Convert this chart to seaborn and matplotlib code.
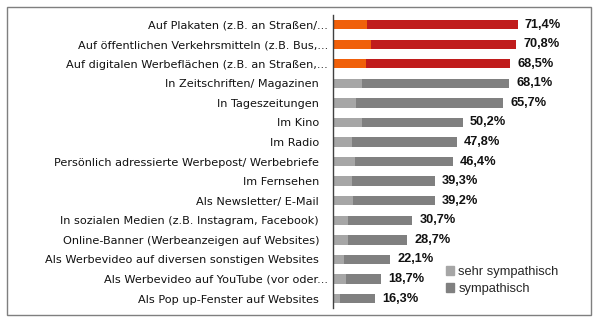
import matplotlib
matplotlib.use("Agg")
import matplotlib.pyplot as plt
import matplotlib.transforms as mtransforms
import seaborn as sns
import pandas as pd
from matplotlib.patches import Patch, Rectangle

categories = [
    "Auf Plakaten (z.B. an Straßen/...",
    "Auf öffentlichen Verkehrsmitteln (z.B. Bus,...",
    "Auf digitalen Werbeflächen (z.B. an Straßen,...",
    "In Zeitschriften/ Magazinen",
    "In Tageszeitungen",
    "Im Kino",
    "Im Radio",
    "Persönlich adressierte Werbepost/ Werbebriefe",
    "Im Fernsehen",
    "Als Newsletter/ E-Mail",
    "In sozialen Medien (z.B. Instagram, Facebook)",
    "Online-Banner (Werbeanzeigen auf Websites)",
    "Als Werbevideo auf diversen sonstigen Websites",
    "Als Werbevideo auf YouTube (vor oder...",
    "Als Pop up-Fenster auf Websites",
]
sehr_sympathisch = [13.0, 14.6, 12.6, 11.1, 8.9, 11.1, 7.3, 8.5, 7.3, 7.7, 5.8, 5.8, 4.4, 5.0, 2.8]
total = [71.4, 70.8, 68.5, 68.1, 65.7, 50.2, 47.8, 46.4, 39.3, 39.2, 30.7, 28.7, 22.1, 18.7, 16.3]
value_labels = ["71,4%", "70,8%", "68,5%", "68,1%", "65,7%", "50,2%", "47,8%", "46,4%",
                "39,3%", "39,2%", "30,7%", "28,7%", "22,1%", "18,7%", "16,3%"]
highlight = [True, True, True] + [False] * 12

light_hi, dark_hi = "#F0600A", "#C01C1C"
light_gr, dark_gr = "#A6A6A6", "#808080"

df = pd.DataFrame({"cat": categories, "sehr": sehr_sympathisch, "total": total})
dark_pal = {c: (dark_hi if h else dark_gr) for c, h in zip(categories, highlight)}
light_pal = {c: (light_hi if h else light_gr) for c, h in zip(categories, highlight)}

sns.set_style("white")
plt.rcParams["font.family"] = ["DejaVu Sans"]

fig = plt.figure(figsize=(5.99, 3.21), dpi=100)
W, H = 599, 321
ax = fig.add_axes([333 / W, 1 - 308.3 / H, 246 / W, (308.3 - 14.9) / H])

sns.barplot(data=df, y="cat", x="total", hue="cat", palette=dark_pal, orient="h",
            width=0.48, legend=False, ax=ax, saturation=1, linewidth=0)
sns.barplot(data=df, y="cat", x="sehr", hue="cat", palette=light_pal, orient="h",
            width=0.48, legend=False, ax=ax, saturation=1, linewidth=0)

ax.set_xlim(0, 95)
ax.set_ylim(14.5, -0.5)
ax.set_xlabel("")
ax.set_ylabel("")
ax.set_xticks([])
for s in ["top", "right", "bottom"]:
    ax.spines[s].set_visible(False)
ax.spines["left"].set_color("#404040")
ax.spines["left"].set_linewidth(1.0)
ax.tick_params(axis="y", length=0, pad=10, labelsize=8.1, labelcolor="#111111")

# truncated labels sit closer to the axis in the reference
shift = mtransforms.ScaledTranslation(9 / 100, 0, fig.dpi_scale_trans)
for lbl in ax.get_yticklabels():
    if lbl.get_text().endswith("..."):
        lbl.set_transform(lbl.get_transform() + shift)

for i, (t, lab) in enumerate(zip(total, value_labels)):
    ax.text(t + 2.7, i, lab, va="center", ha="left", fontsize=9.2, fontweight="bold",
            family="Liberation Sans", color="#111111")

handles = [Patch(color=light_gr, label="sehr sympathisch"), Patch(color=dark_gr, label="sympathisch")]
fig.legend(handles=handles, loc="upper left", bbox_to_anchor=(446 / W, 1 - 266 / H),
           frameon=False, prop={"family": "Liberation Sans", "size": 9.3},
           handlelength=0.65, handleheight=0.65, handletextpad=0.3, labelspacing=0.4,
           borderaxespad=0, borderpad=0)

fig.patches.append(Rectangle((7 / W, 1 - 315 / H), (591 - 7) / W, (315 - 7) / H,
                             transform=fig.transFigure, fill=False, edgecolor="#7f7f7f",
                             linewidth=1.0))

fig.savefig("out.png", dpi=100)
